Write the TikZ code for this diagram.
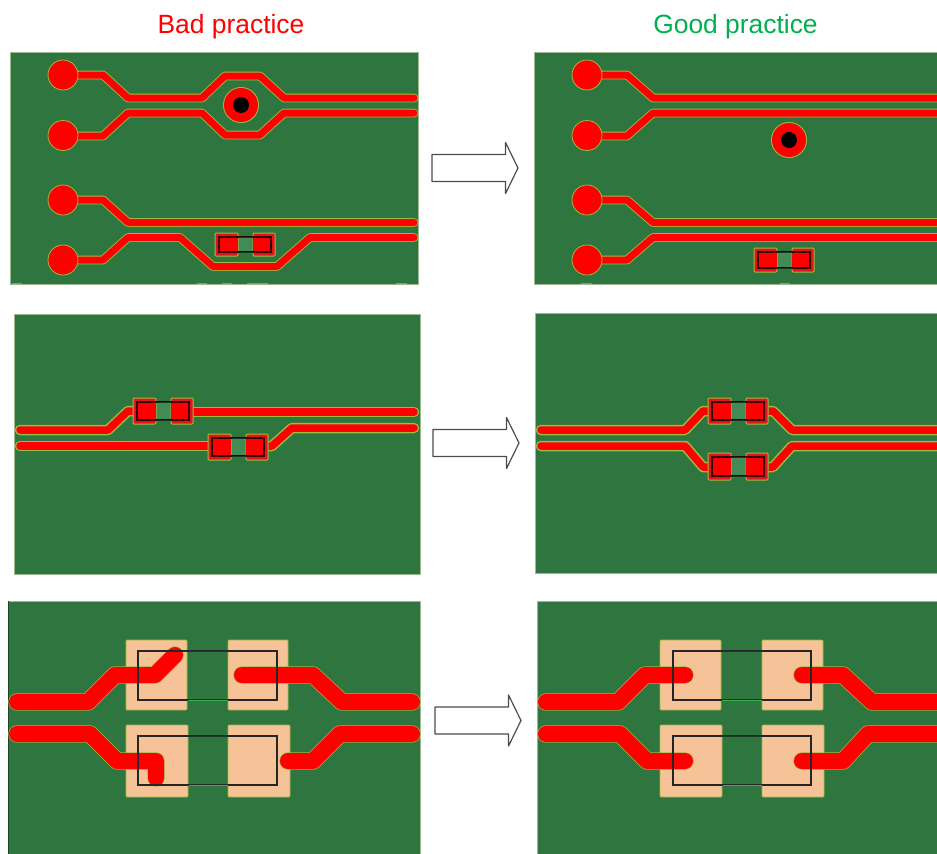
\documentclass[tikz,border=0pt]{standalone}
\usepackage{fontspec}
\setmainfont{Liberation Sans}
\definecolor{board}{HTML}{2F7540}
\definecolor{edgeg}{HTML}{9DBB3C}
\definecolor{rimg}{HTML}{9DB98F}
\definecolor{cu}{HTML}{FE0000}
\definecolor{ring}{HTML}{E8101A}
\definecolor{padc}{HTML}{F6C298}
\definecolor{good}{HTML}{00B050}
\definecolor{gapg}{HTML}{438B56}
\definecolor{speck}{HTML}{6DB545}
\tikzset{
  x=1pt,y=-1pt,
  boardbox/.style={fill=board,draw=rimg,line width=.7pt},
  rim/.style={draw=rimg,line width=.7pt},
  title/.style={font=\fontsize{26.4}{30}\selectfont,inner sep=0pt,anchor=base},
  hollow/.style={draw=black!70,fill=white,line width=1.2pt,line join=round},
  cond/.style={line cap=round,line join=round,draw=cu},
  smallpad/.style={fill=ring,draw=edgeg,line width=1pt,rounded corners=1pt},
  bigpad/.style={fill=padc,draw=edgeg,line width=.8pt,rounded corners=1pt},
  body/.style={draw=black!85,line width=1.1pt},
}
% trace: width, extra edge width, path
\newcommand\trace[3]{%
  \pgfmathsetlengthmacro\wo{(#1+#2)*1pt}%
  \draw[line cap=round,line join=round,draw=edgeg,line width=\wo] #3;%
  \draw[cond,line width=#1pt] #3;}
\newcommand\hollowarrow[2]{% x, y (centre of shaft, left end)
  \draw[hollow] (#1,#2-13.5) -- (#1+73.5,#2-13.5) -- (#1+73.5,#2-25.5) -- (#1+86,#2) -- (#1+73.5,#2+25.5) -- (#1+73.5,#2+13.5) -- (#1,#2+13.5) -- cycle;}
\newcommand\smallcomp[3]{% x, y, pad height
  \fill[gapg] (#1+23,#2+4) rectangle (#1+38,#2+#3-4);
  \draw[smallpad] (#1,#2) rectangle (#1+23,#2+#3);
  \draw[smallpad] (#1+38,#2) rectangle (#1+60,#2+#3);
  \fill[cu] (#1+4,#2+4) rectangle (#1+23,#2+#3-4);
  \fill[cu] (#1+38,#2+4) rectangle (#1+56,#2+#3-4);
  \draw[draw=black!80!red,line width=1.4pt] (#1+4,#2+4) rectangle (#1+56,#2+#3-4);
  \draw[board!50!black,line width=1pt] (#1+23.5,#2+4) -- (#1+37.5,#2+4) (#1+23.5,#2+#3-4) -- (#1+37.5,#2+#3-4);}
\newcommand\via[2]{%
  \fill[edgeg] (#1,#2) circle (18);
  \fill[cu] (#1,#2) circle (17);
  \fill[black] (#1,#2) circle (8);}
\newcommand\roundpad[2]{\draw[fill=cu,draw=edgeg,line width=.8pt] (#1,#2) circle (15);}
\begin{document}
\begin{tikzpicture}
\useasboundingbox (0,0) rectangle (937,854);
\node[title,text=red] (badt) at (231,33) {Bad practice};
\node[title,text=good] (goodt) at (735.5,33) {Good practice};

% ---------- row 1 left
\draw[boardbox] (10,52) rectangle (418,284);
\trace{7}{1.8}{(63,75) -- (103,75) -- (128,98) -- (202,98) -- (225,76) -- (260,76) -- (284,98) -- (414,98)}
\trace{7}{1.8}{(63,136) -- (103,136) -- (128,113) -- (202,113) -- (225,135) -- (260,135) -- (284,113) -- (414,113)}
\trace{7}{1.8}{(63,200) -- (103,200) -- (128,222.5) -- (414,222.5)}
\trace{7}{1.8}{(63,260) -- (103,260) -- (128,237.5) -- (180,237.5) -- (213,266.5) -- (277,266.5) -- (310,237.5) -- (414,237.5)}
\foreach \yy in {75,135.5,200,260} {\roundpad{63}{\yy}}
\via{241}{105}
\smallcomp{215}{233}{23}
\draw[speck,line width=1pt] (12,283.5) -- (22,283.5) (197,283.5) -- (207,283.5) (222,283.5) -- (232,283.5) (247,283.5) -- (268,283.5) (396,283.5) -- (407,283.5);

% ---------- row 1 right
\fill[board] (534,52) rectangle (937,284);
\draw[rim] (937,52) -- (534,52) -- (534,284) -- (937,284);
\trace{7}{1.8}{(587,75) -- (627,75) -- (653,98) -- (945,98)}
\trace{7}{1.8}{(587,136) -- (627,136) -- (653,113) -- (945,113)}
\trace{7}{1.8}{(587,200) -- (627,200) -- (653,222.5) -- (945,222.5)}
\trace{7}{1.8}{(587,260) -- (627,260) -- (653,237.5) -- (945,237.5)}
\foreach \yy in {75,135.5,200,260} {\roundpad{587}{\yy}}
\via{789}{140}
\smallcomp{754}{248}{24}
\draw[speck,line width=1pt] (581,283.5) -- (592,283.5) (780,283.5) -- (790,283.5);

\hollowarrow{432}{168}

% ---------- row 2 left
\draw[boardbox] (14,314) rectangle (420,574);
\trace{7.5}{3}{(20,430) -- (108,430) -- (128,411) -- (137,411)}
\trace{7.5}{3}{(188,412) -- (414,412)}
\trace{7.5}{3}{(20,446) -- (212,446)}
\trace{7.5}{3}{(262,446) -- (272,446) -- (292,428) -- (414,428)}
\smallcomp{133}{398}{26}
\smallcomp{208}{434}{26}

% ---------- row 2 right
\fill[board] (535,313) rectangle (937,573);
\draw[rim] (937,313) -- (535,313) -- (535,573) -- (937,573);
\trace{7.5}{3}{(541,430) -- (685,430) -- (703,411) -- (715,411)}
\trace{7.5}{3}{(760,411) -- (773,411) -- (792,430) -- (945,430)}
\trace{7.5}{3}{(541,446) -- (685,446) -- (703,467) -- (715,467)}
\trace{7.5}{3}{(760,467) -- (773,467) -- (792,446) -- (945,446)}
\smallcomp{708}{398}{26}
\smallcomp{708}{453}{27}

\hollowarrow{433}{443}

% ---------- row 3 left
\fill[board] (8,601) rectangle (420,860);
\draw[rim] (8,860) -- (8,601) -- (420,601) -- (420,860);
\draw[board!60!black,line width=1pt] (8,601) -- (8,860);
\draw[bigpad] (126,640) rectangle (187,710);
\draw[bigpad] (228,640) rectangle (288,710);
\draw[bigpad] (126,725) rectangle (188,797);
\draw[bigpad] (228,725) rectangle (290,797);
\trace{16}{1.4}{(17,702) -- (88,702) -- (115,675) -- (155,675) -- (175,655)}
\trace{16}{1.4}{(242,675) -- (313,675) -- (342,702) -- (412,702)}
\trace{16}{1.4}{(17,734) -- (90,734) -- (117,761) -- (156,761) -- (156,778)}
\trace{16}{1.4}{(288,761) -- (313,761) -- (340,734) -- (412,734)}
\draw[body] (138,651) rectangle (277,700);
\draw[body] (138,736) rectangle (277,785);
\draw[board!50!black,line width=1pt] (187.5,651) -- (227.5,651) (188.5,736) -- (227.5,736);
\draw[good!70!edgeg,line width=1pt] (187.5,700.5) -- (227.5,700.5) (188.5,785.5) -- (227.5,785.5);

% ---------- row 3 right
\fill[board] (537,601) rectangle (937,860);
\draw[rim] (537,860) -- (537,601) -- (937,601);
\draw[bigpad] (660,640) rectangle (721,710);
\draw[bigpad] (762,640) rectangle (823,710);
\draw[bigpad] (660,725) rectangle (722,797);
\draw[bigpad] (762,725) rectangle (824,797);
\trace{16}{1.4}{(546,702) -- (618,702) -- (645,675) -- (685,675)}
\trace{16}{1.4}{(802,675) -- (843,675) -- (872,702) -- (945,702)}
\trace{16}{1.4}{(546,734) -- (620,734) -- (647,761) -- (685,761)}
\trace{16}{1.4}{(802,761) -- (843,761) -- (868,734) -- (945,734)}
\draw[body] (673,651) rectangle (811,700);
\draw[body] (673,736) rectangle (811,785);
\draw[board!50!black,line width=1pt] (721.5,651) -- (761.5,651) (722.5,736) -- (761.5,736);
\draw[good!70!edgeg,line width=1pt] (721.5,700.5) -- (761.5,700.5) (722.5,785.5) -- (761.5,785.5);

\hollowarrow{435}{720.5}
\end{tikzpicture}
\end{document}
